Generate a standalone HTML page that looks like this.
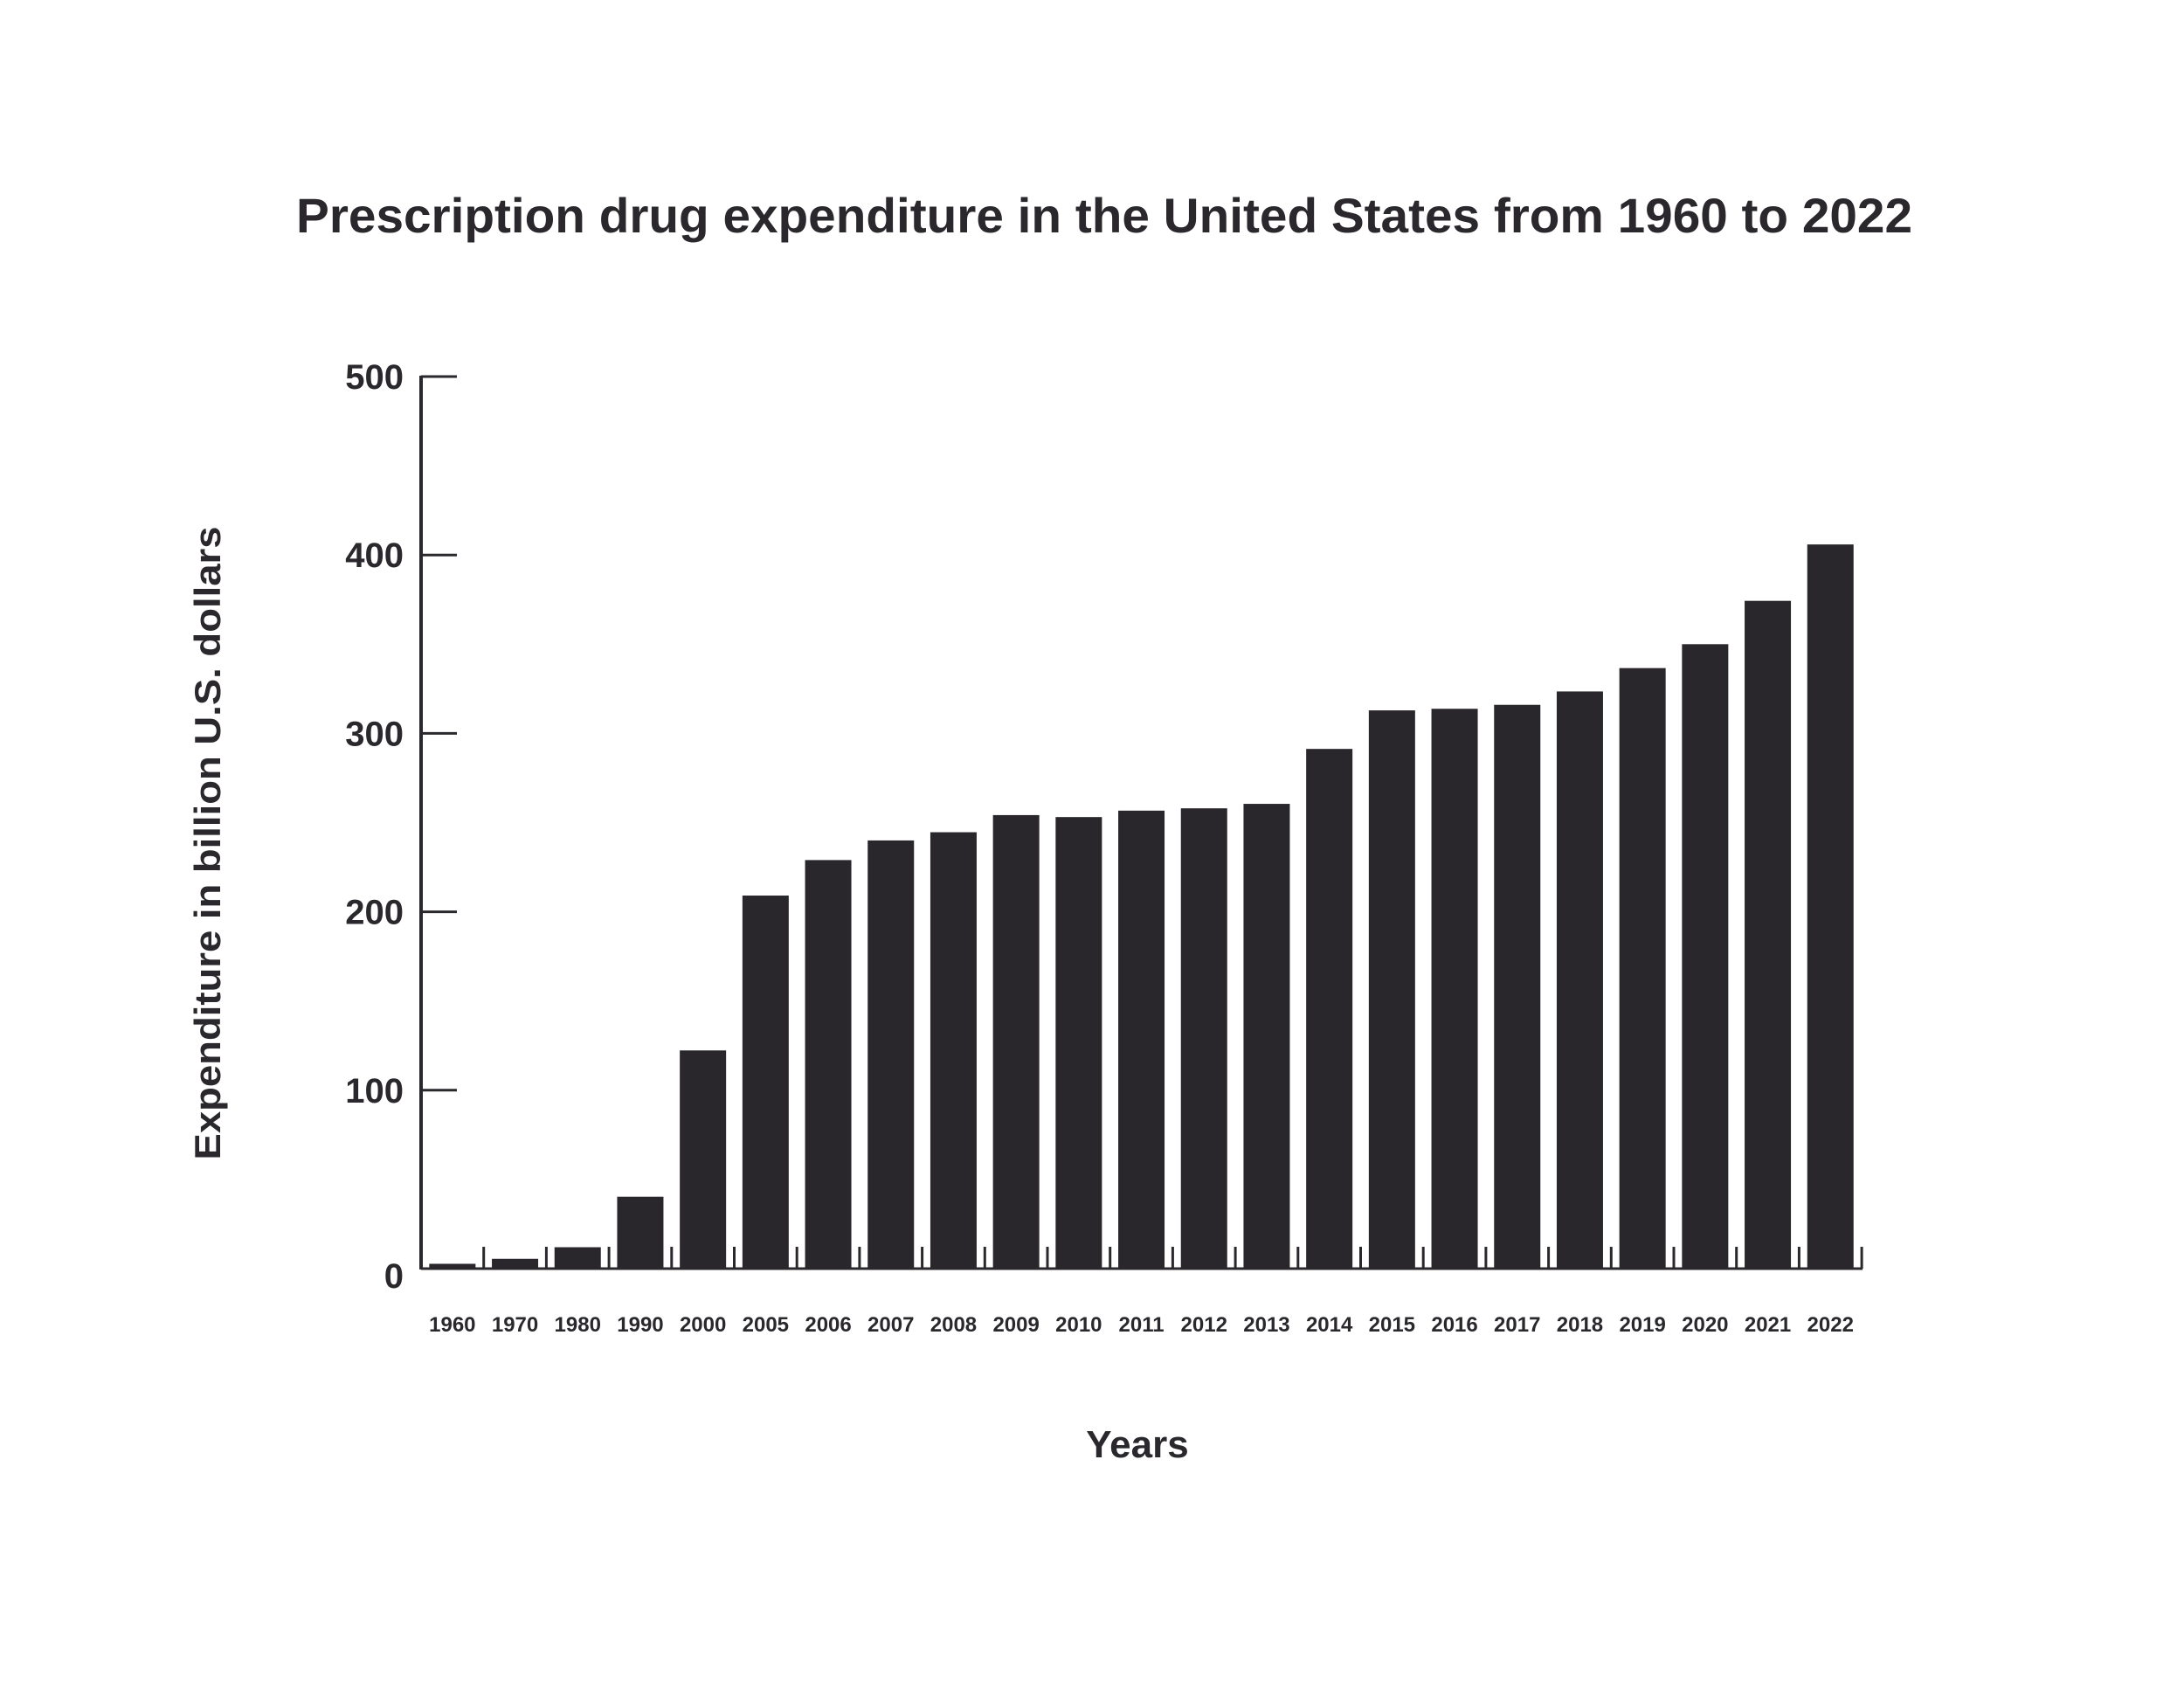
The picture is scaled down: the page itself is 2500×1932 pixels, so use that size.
<!DOCTYPE html>
<html><head><meta charset="utf-8"><style>
html,body{margin:0;padding:0;background:#fff;}
svg{display:block;font-family:"Liberation Sans",sans-serif;}
</style></head><body>
<svg id="chart" width="2500" height="1932" viewBox="0 0 2500 1932">
<text x="1264" y="266" text-anchor="middle" font-size="56" font-weight="bold" fill="#2a282c" textLength="1850" lengthAdjust="spacingAndGlyphs">Prescription drug expenditure in the United States from 1960 to 2022</text>
<text transform="translate(252,965) rotate(-90)" text-anchor="middle" font-size="42" font-weight="bold" fill="#2a282c" textLength="725" lengthAdjust="spacingAndGlyphs">Expenditure in billion U.S. dollars</text>
<text x="1302" y="1668" text-anchor="middle" font-size="44" font-weight="bold" fill="#2a282c">Years</text>
<g id="ygrid"></g><g id="bars"></g><g id="xt"></g>
</svg>
<script>
const categories=["1960","1970","1980","1990","2000","2005","2006","2007","2008","2009","2010","2011","2012","2013","2014","2015","2016","2017","2018","2019","2020","2021","2022"];
const values=[2.7,5.5,12,40.3,122.3,209.1,229,240,244.6,254.2,253.1,256.7,258,260.5,291.3,312.9,313.8,316,323.5,336.6,350,374.3,405.9];
const yTicks=[0,100,200,300,400,500];
const NS="http://www.w3.org/2000/svg";
const X0=482,SLOT=71.7,BW=53,Y0=1452,Y500=431;
const yS=v=>Y0-(Y0-Y500)*v/500;
const xS=i=>X0+i*SLOT;
function mk(t,a,p){const e=document.createElementNS(NS,t);for(const k in a)e.setAttribute(k,a[k]);p.appendChild(e);return e;}
const g=document.getElementById('ygrid'),b=document.getElementById('bars'),xt=document.getElementById('xt');
const ax=mk('line',{x1:X0,y1:Y500-1,x2:X0,y2:Y0+1,stroke:'#2a282c','stroke-width':4},g);


yTicks.forEach(v=>{
  if(v>0){const l=mk('line',{x1:X0,y1:yS(v),x2:X0+41,y2:yS(v),stroke:'#2a282c','stroke-width':3},g);
  
  }
  const t=mk('text',{x:462,y:yS(v)+(v===0?22:14),'text-anchor':'end','font-size':40,'font-weight':'bold',fill:'#2a282c'},g);
  t.textContent=v;
  
  
});
const xl=mk('line',{x1:X0,y1:Y0,x2:xS(categories.length)+1,y2:Y0,stroke:'#2a282c','stroke-width':3},g);


categories.forEach((c,i)=>{
  const cx=xS(i)+SLOT/2;
  const r=mk('rect',{x:cx-BW/2,y:yS(values[i]),width:BW,height:Y0-yS(values[i]),fill:'#29272b'},b);
  
  
  const tk=mk('line',{x1:xS(i+1),y1:Y0,x2:xS(i+1),y2:Y0-25,stroke:'#2a282c','stroke-width':3},xt);
  
  
  const t=mk('text',{x:cx,y:1524,'text-anchor':'middle','font-size':24,'font-weight':'bold',fill:'#2a282c'},xt);
  t.textContent=c;
  
  
});
</script>
</body></html>
